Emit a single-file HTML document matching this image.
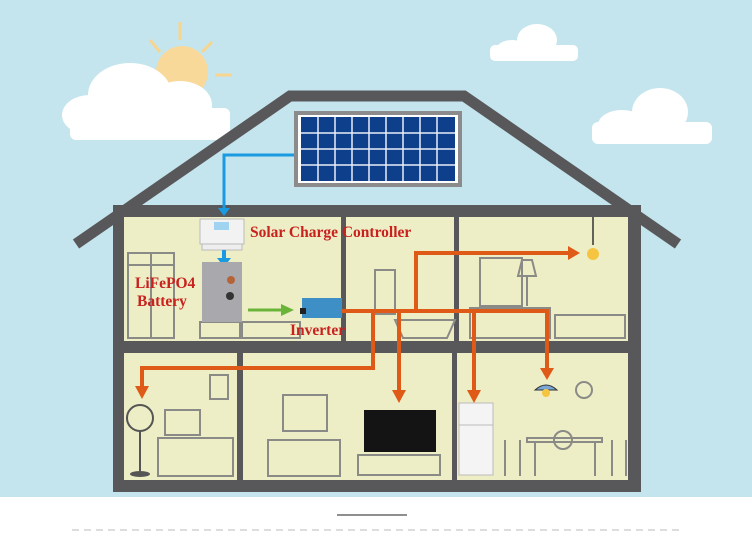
<!DOCTYPE html>
<html><head><meta charset="utf-8"><style>
html,body{margin:0;padding:0;background:#fff;}
svg{display:block;}
text{font-family:"Liberation Serif",serif;font-weight:bold;fill:#c8211e;}
</style></head><body>
<svg width="752" height="544" viewBox="0 0 752 544" xmlns="http://www.w3.org/2000/svg">
<rect x="0" y="0" width="752" height="497" fill="#c4e5ed"/>
<g stroke="#f7d58f" stroke-width="3">
<line x1="180" y1="22" x2="180" y2="40"/><line x1="150" y1="40" x2="160" y2="52"/><line x1="212" y1="42" x2="202" y2="52"/><line x1="215" y1="75" x2="232" y2="75"/>
</g>
<circle cx="182" cy="72" r="26" fill="#f8d99a"/>
<g fill="#fff">
<ellipse cx="130" cy="95" rx="42" ry="32"/><ellipse cx="180" cy="105" rx="32" ry="24"/><ellipse cx="90" cy="115" rx="28" ry="20"/><rect x="70" y="108" width="160" height="32" rx="6"/>
<ellipse cx="537" cy="40" rx="20" ry="16"/><ellipse cx="512" cy="50" rx="16" ry="10"/><rect x="490" y="45" width="88" height="16" rx="5"/>
<ellipse cx="660" cy="112" rx="28" ry="24"/><ellipse cx="622" cy="125" rx="24" ry="15"/><rect x="592" y="122" width="120" height="22" rx="6"/>
</g>
<polyline points="76,244 290,96 464,96 678,244" fill="none" stroke="#58575a" stroke-width="11"/>
<rect x="113" y="205" width="528" height="287" fill="#58575a"/>
<rect x="124" y="217" width="504" height="124" fill="#eeeec6"/>
<rect x="124" y="353" width="504" height="127" fill="#eeeec6"/>
<rect x="341" y="217" width="5" height="124" fill="#58575a"/>
<rect x="454" y="217" width="5" height="124" fill="#58575a"/>
<rect x="237" y="353" width="6" height="127" fill="#58575a"/>
<rect x="452" y="353" width="5" height="127" fill="#58575a"/>
<g fill="none" stroke="#8a8a86" stroke-width="2">
<rect x="128" y="253" width="46" height="85"/><line x1="151" y1="253" x2="151" y2="338"/><line x1="128" y1="265" x2="174" y2="265"/>
<rect x="200" y="322" width="42" height="16"/><rect x="240" y="322" width="60" height="16"/>
<rect x="375" y="270" width="20" height="44"/><path d="M395 320 h60 l-8 18 h-44 z"/>
<rect x="480" y="258" width="42" height="48"/><rect x="470" y="308" width="80" height="30"/><path d="M555 315 h70 v23 h-70z"/>
<line x1="527" y1="276" x2="527" y2="306"/><path d="M518 276 h18 l-4 -16 h-10z"/>
<rect x="210" y="375" width="18" height="24"/><rect x="165" y="410" width="35" height="25"/><rect x="158" y="438" width="75" height="38"/>
<rect x="283" y="395" width="44" height="36"/><rect x="268" y="440" width="72" height="36"/><rect x="358" y="455" width="82" height="20"/>
<rect x="527" y="438" width="75" height="4"/><line x1="535" y1="442" x2="535" y2="476"/><line x1="595" y1="442" x2="595" y2="476"/>
<circle cx="563" cy="440" r="9"/><circle cx="584" cy="390" r="8"/>
<path d="M505 440 v36 M520 440 v36 M612 440 v36 M626 440 v36"/>
</g>
<rect x="364" y="410" width="72" height="42" fill="#141414"/>
<rect x="459" y="403" width="34" height="72" fill="#f4f4f4" stroke="#bbb"/>
<line x1="459" y1="425" x2="493" y2="425" stroke="#bbb"/>
<circle cx="140" cy="418" r="13" fill="none" stroke="#555" stroke-width="2"/>
<line x1="140" y1="431" x2="140" y2="472" stroke="#555" stroke-width="2"/>
<ellipse cx="140" cy="474" rx="10" ry="3" fill="#555"/>
<line x1="593" y1="217" x2="593" y2="245" stroke="#333" stroke-width="1.5"/>
<circle cx="593" cy="254" r="6" fill="#f5c542"/>
<path d="M535 390 q11 -10 22 0z" fill="#7aa8d6" stroke="#333"/>
<circle cx="546" cy="393" r="4" fill="#f5c542"/>
<rect x="294" y="111" width="168" height="76" fill="#8b8b8b"/>
<rect x="298" y="115" width="160" height="68" fill="#fff"/>
<rect x="301" y="117" width="154" height="64" fill="#0e3f8a"/>
<g stroke="#e8eef8" stroke-width="1.5">
<line x1="318" y1="117" x2="318" y2="181"/><line x1="335" y1="117" x2="335" y2="181"/><line x1="352" y1="117" x2="352" y2="181"/><line x1="369" y1="117" x2="369" y2="181"/><line x1="386" y1="117" x2="386" y2="181"/><line x1="403" y1="117" x2="403" y2="181"/><line x1="420" y1="117" x2="420" y2="181"/><line x1="437" y1="117" x2="437" y2="181"/>
<line x1="301" y1="133" x2="455" y2="133"/><line x1="301" y1="149" x2="455" y2="149"/><line x1="301" y1="165" x2="455" y2="165"/>
</g>
<polyline points="294,155 224,155 224,210" fill="none" stroke="#1a9ae0" stroke-width="3"/>
<polygon points="218,208 230,208 224,216" fill="#1a9ae0"/>
<rect x="200" y="219" width="44" height="25" fill="#f2f2f2" stroke="#bbb"/>
<rect x="214" y="222" width="15" height="8" fill="#9fd3f0"/>
<rect x="202" y="244" width="40" height="6" fill="#eee" stroke="#bbb"/>
<rect x="222" y="250" width="4" height="10" fill="#1a9ae0"/>
<polygon points="217,258 231,258 224,267" fill="#1a9ae0"/>
<rect x="202" y="262" width="40" height="60" fill="#a9a9ad"/>
<circle cx="231" cy="280" r="4" fill="#b5643a"/><circle cx="230" cy="296" r="4" fill="#333"/>
<line x1="248" y1="310" x2="283" y2="310" stroke="#6ab43a" stroke-width="3"/>
<polygon points="281,304 294,310 281,316" fill="#6ab43a"/>
<rect x="302" y="298" width="40" height="20" fill="#3d8fc6"/>
<rect x="300" y="308" width="6" height="6" fill="#222"/>
<g fill="none" stroke="#e05a17" stroke-width="4">
<polyline points="342,311 547,311 547,370"/>
<polyline points="416,311 416,253 570,253"/>
<polyline points="373,311 373,368 142,368 142,388"/>
<line x1="399" y1="311" x2="399" y2="392"/>
<line x1="474" y1="311" x2="474" y2="392"/>
</g>
<g fill="#e05a17">
<polygon points="568,246 580,253 568,260"/>
<polygon points="135,386 149,386 142,399"/>
<polygon points="392,390 406,390 399,403"/>
<polygon points="467,390 481,390 474,403"/>
<polygon points="540,368 554,368 547,380"/>
</g>
<text x="250" y="237" font-size="15.5">Solar Charge Controller</text>
<text x="135" y="288" font-size="15.5">LiFePO4</text>
<text x="137" y="306" font-size="15.5">Battery</text>
<text x="290" y="335" font-size="15.5">Inverter</text>
<line x1="72" y1="530" x2="680" y2="530" stroke="#ddd" stroke-width="2" stroke-dasharray="7,5"/>
<rect x="337" y="514" width="70" height="2" fill="#444" opacity="0.6"/>
</svg>
</body></html>
